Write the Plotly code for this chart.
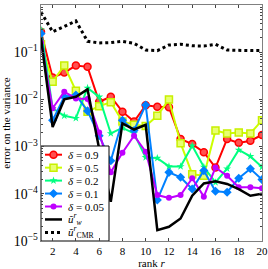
import plotly.graph_objects as go

ranks = list(range(1, 21))

d09 = [0.27, 0.029, 0.037, 0.052, 0.049, 0.0089, 0.0114, 0.0055, 0.0034, 0.0075,
       0.0070, 0.0068, 0.00145, 0.00113, 0.00076, 0.00036, 0.00145, 0.0012, 0.00133, 0.00176]
d05 = [0.147, 0.0237, 0.052, 0.0153, 0.0055, 0.0072, 0.0087, 0.0034, 0.0029, 0.00274,
       0.0045, 0.010, 0.00118, 0.00026, 0.00024, 0.0022, 0.0019, 0.0020, 0.0019, 0.0036]
d02 = [0.30, 0.0065, 0.0045, 0.0040, 0.0175, 0.0113, 0.0019, 0.0025, 0.0019, 0.00059,
       0.00057, 0.00038, 0.00038, 0.00104, 0.00037, 0.000175, 0.00034, 0.00085, 0.00062, 0.00037]
d01 = [0.25, 0.0036, 0.0114, 0.0124, 0.0057, 0.0017, 0.0005, 0.0036, 0.0022, 0.0076,
       7.4e-5, 0.000285, 0.000224, 0.000126, 0.00031, 0.000113, 0.000108, 0.000213, 0.00034, 0.0002]
d005 = [0.16, 0.0065, 0.0145, 0.0105, 0.0102, 0.002, 0.000285, 0.00074, 0.0017, 0.00078,
        9.4e-5, 8.2e-5, 9.4e-5, 0.000213, 8.7e-5, 0.00036, 0.00024, 0.000138, 0.000138, 0.000131]
u_w = [0.2, 0.0026, 0.010, 0.0114, 0.0163, 0.0009, 6.8e-5, 0.0031, 0.0023, 0.0029,
       1.7e-5, 2.0e-5, 3.0e-5, 9.1e-5, 0.000166, 0.000184, 0.000162, 0.000126, 9.1e-5, 1.0e-4]
u_cmr = [0.71, 0.27, 0.35, 0.46, 0.17, 0.157, 0.16, 0.17, 0.154, 0.111,
         0.108, 0.142, 0.147, 0.137, 0.135, 0.147, 0.111, 0.108, 0.108, 0.108]

x_ticks = [2, 4, 6, 8, 10, 12, 14, 16, 18, 20]

FONT = "Liberation Serif"
W, H = 268, 269
ML, MR, MT, MB = 41, 6, 5, 28

series = [
    ("<i>δ</i> = 0.9", d09, "#ff0000", dict(symbol="circle", size=7, color="#ff5050", line=dict(color="#ff0000", width=1.5))),
    ("<i>δ</i> = 0.5", d05, "#ccff00", dict(symbol="square", size=7, color="#e8ff70", line=dict(color="#c8f000", width=1.5))),
    ("<i>δ</i> = 0.2", d02, "#00ff80", dict(symbol="star", size=6, color="#00ff80", line=dict(width=0))),
    ("<i>δ</i> = 0.1", d01, "#0080ff", dict(symbol="diamond", size=7, color="#0080ff", line=dict(width=0))),
    ("<i>δ</i> = 0.05", d005, "#bf00ff", dict(symbol="circle", size=6, color="#bf00ff", line=dict(width=0))),
]

fig = go.Figure()
for name, vals, col, mk in series:
    fig.add_trace(go.Scatter(x=ranks, y=vals, mode="lines+markers", name=name,
                             line=dict(color=col, width=2), marker=mk))

name_w = "<i>ũ</i><sup><i>r</i></sup><sub><i>w</i></sub>"
name_cmr = "<i>ũ</i><sup><i>r</i></sup><sub>CMR</sub>"
fig.add_trace(go.Scatter(x=ranks, y=u_w, mode="lines", name=name_w,
                         line=dict(color="black", width=2.5)))
fig.add_trace(go.Scatter(x=ranks, y=u_cmr, mode="lines", name=name_cmr,
                         line=dict(color="black", width=3, dash="dot")))

# ---- compact pgfplots-style legend, drawn on an overlay axis in pixel units ----
annotations = []
fig.add_trace(go.Scatter(x=[41, 109, 109, 41, 41], y=[241, 241, 146, 146, 241],
                         xaxis="x2", yaxis="y2", mode="lines", fill="toself",
                         fillcolor="white", line=dict(color="black", width=1),
                         hoverinfo="skip", cliponaxis=False))
entries = [(s[0], s[2], s[3], "solid", 2) for s in series]
entries.append((name_w, "black", None, "solid", 2.5))
entries.append((name_cmr, "black", None, "dot", 3))
y0 = 154.7
step = 12.95
for i, (label, col, mk, dash, lw) in enumerate(entries):
    yc = y0 + i * step
    fig.add_trace(go.Scatter(x=[45, 62], y=[yc, yc], xaxis="x2", yaxis="y2",
                             mode="lines", line=dict(color=col, width=lw, dash=dash),
                             hoverinfo="skip", cliponaxis=False))
    if mk is not None:
        fig.add_trace(go.Scatter(x=[53.5], y=[yc], xaxis="x2", yaxis="y2",
                                 mode="markers", marker=mk, hoverinfo="skip",
                                 cliponaxis=False))
    annotations.append(dict(xref="x2", yref="y2", x=66, y=yc,
                            xanchor="left", yanchor="middle", text=label, showarrow=False,
                            font=dict(family=FONT, size=11, color="black")))

fig.update_layout(
    width=W, height=H,
    margin=dict(l=ML, r=MR, t=MT, b=MB, autoexpand=False),
    paper_bgcolor="white", plot_bgcolor="white",
    font=dict(family=FONT, size=11, color="black"),
    showlegend=False,
    annotations=annotations,
    xaxis2=dict(overlaying="x", range=[ML, W - MR], visible=False, fixedrange=True),
    yaxis2=dict(overlaying="y", range=[H - MB, MT], visible=False, fixedrange=True),
)
fig.update_xaxes(selector=dict(anchor="y"), range=[1, 20], tickvals=x_ticks, ticks="inside", ticklen=3,
                 mirror="ticks", showline=True, linecolor="#808080", linewidth=1,
                 showgrid=False, zeroline=False, automargin=False,
                 title=dict(text="rank <i>r</i>", standoff=2, font=dict(size=11)),
                 tickfont=dict(size=11))
fig.layout.xaxis.update(range=[1, 20], tickvals=x_ticks, ticks="inside", ticklen=3,
                        mirror="ticks", showline=True, linecolor="#808080", linewidth=1,
                        showgrid=False, zeroline=False, automargin=False,
                        title=dict(text="rank <i>r</i>", standoff=2, font=dict(size=11)),
                        tickfont=dict(size=11))
fig.layout.yaxis.update(type="log", range=[-5, 0], dtick=1, exponentformat="power",
                        ticks="inside", ticklen=3, mirror="ticks", showline=True,
                        linecolor="#808080", linewidth=1, showgrid=False, zeroline=False,
                        automargin=False,
                        minor=dict(ticks="inside", ticklen=2, dtick="D1", showgrid=False),
                        title=dict(text="error on the variance", standoff=2, font=dict(size=11)),
                        tickfont=dict(size=11))

fig.write_html("out.html", config={"displayModeBar": False},
               post_script="document.body.style.margin='0';document.body.style.overflow='hidden';")
